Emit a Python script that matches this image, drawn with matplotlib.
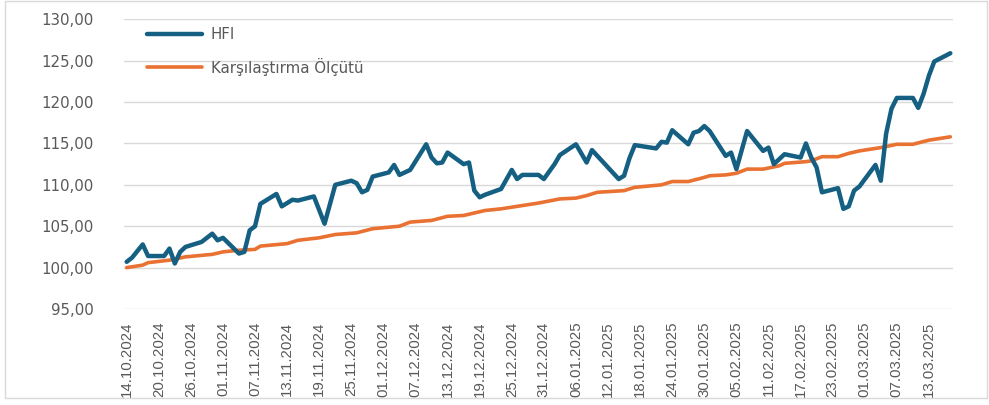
import matplotlib
matplotlib.use("Agg")
import matplotlib.pyplot as plt
from matplotlib import font_manager
from matplotlib.patches import Rectangle
import pandas as pd

# HFI fund index (turning points of the series)
hfi_dates = [
    "14.10.2024", "15.10.2024", "17.10.2024", "18.10.2024", "21.10.2024", "22.10.2024",
    "23.10.2024", "24.10.2024", "25.10.2024", "28.10.2024", "30.10.2024", "31.10.2024",
    "01.11.2024", "04.11.2024", "05.11.2024", "06.11.2024", "07.11.2024", "08.11.2024",
    "11.11.2024", "12.11.2024", "14.11.2024", "15.11.2024", "18.11.2024", "20.11.2024",
    "22.11.2024", "25.11.2024", "26.11.2024", "27.11.2024", "28.11.2024", "29.11.2024",
    "02.12.2024", "03.12.2024", "04.12.2024", "06.12.2024", "09.12.2024", "10.12.2024",
    "11.12.2024", "12.12.2024", "13.12.2024", "16.12.2024", "17.12.2024", "18.12.2024",
    "19.12.2024", "20.12.2024", "23.12.2024", "25.12.2024", "26.12.2024", "27.12.2024",
    "30.12.2024", "31.12.2024", "02.01.2025", "03.01.2025", "06.01.2025", "08.01.2025",
    "09.01.2025", "14.01.2025", "15.01.2025", "16.01.2025", "17.01.2025", "21.01.2025",
    "22.01.2025", "23.01.2025", "24.01.2025", "27.01.2025", "28.01.2025", "29.01.2025",
    "30.01.2025", "31.01.2025", "03.02.2025", "04.02.2025", "05.02.2025", "07.02.2025",
    "10.02.2025", "11.02.2025", "12.02.2025", "14.02.2025", "17.02.2025", "18.02.2025",
    "19.02.2025", "20.02.2025", "21.02.2025", "24.02.2025", "25.02.2025", "26.02.2025",
    "27.02.2025", "28.02.2025", "03.03.2025", "04.03.2025", "05.03.2025", "06.03.2025",
    "07.03.2025", "10.03.2025", "11.03.2025", "12.03.2025", "13.03.2025", "14.03.2025",
    "17.03.2025",
]
hfi_values = [
    100.7, 101.2, 102.8, 101.4, 101.4, 102.3,
    100.5, 101.9, 102.5, 103.1, 104.1, 103.3,
    103.6, 101.7, 101.9, 104.5, 105.0, 107.7,
    108.9, 107.4, 108.2, 108.1, 108.6, 105.3,
    110.0, 110.5, 110.2, 109.1, 109.4, 111.0,
    111.5, 112.4, 111.2, 111.8, 114.9, 113.3,
    112.6, 112.7, 113.9, 112.5, 112.7, 109.3,
    108.5, 108.8, 109.5, 111.8, 110.7, 111.2,
    111.2, 110.7, 112.5, 113.6, 114.9, 112.7,
    114.2, 110.7, 111.1, 113.2, 114.8, 114.4,
    115.2, 115.1, 116.6, 114.9, 116.3, 116.5,
    117.1, 116.5, 113.5, 113.9, 111.9, 116.5,
    114.1, 114.5, 112.5, 113.7, 113.3, 115.0,
    113.3, 112.1, 109.1, 109.6, 107.1, 107.4,
    109.3, 109.8, 112.4, 110.5, 116.2, 119.2,
    120.5, 120.5, 119.3, 121.0, 123.2, 124.9,
    125.9,
]

# Benchmark index
bench_dates = [
    "14.10.2024", "17.10.2024", "18.10.2024", "22.10.2024", "25.10.2024", "30.10.2024",
    "01.11.2024", "04.11.2024", "07.11.2024", "08.11.2024", "13.11.2024", "15.11.2024",
    "19.11.2024", "22.11.2024", "26.11.2024", "29.11.2024", "04.12.2024", "06.12.2024",
    "10.12.2024", "13.12.2024", "16.12.2024", "20.12.2024", "23.12.2024", "26.12.2024",
    "30.12.2024", "03.01.2025", "06.01.2025", "08.01.2025", "10.01.2025", "15.01.2025",
    "17.01.2025", "22.01.2025", "24.01.2025", "27.01.2025", "30.01.2025", "31.01.2025",
    "03.02.2025", "05.02.2025", "07.02.2025", "10.02.2025", "13.02.2025", "14.02.2025",
    "18.02.2025", "19.02.2025", "21.02.2025", "24.02.2025", "26.02.2025", "28.02.2025",
    "04.03.2025", "07.03.2025", "10.03.2025", "13.03.2025", "17.03.2025",
]
bench_values = [
    100.0, 100.3, 100.6, 100.9, 101.3, 101.6,
    101.9, 102.1, 102.2, 102.6, 102.9, 103.3,
    103.6, 104.0, 104.2, 104.7, 105.0, 105.5,
    105.7, 106.2, 106.3, 106.9, 107.1, 107.4,
    107.8, 108.3, 108.4, 108.7, 109.1, 109.3,
    109.7, 110.0, 110.4, 110.4, 110.9, 111.1,
    111.2, 111.4, 111.9, 111.9, 112.3, 112.6,
    112.8, 112.9, 113.4, 113.4, 113.8, 114.1,
    114.5, 114.9, 114.9, 115.4, 115.8,
]

series_labels = ["HFI", "Karşılaştırma Ölçütü"]
y_ticks = [95, 100, 105, 110, 115, 120, 125, 130]
first_date, last_date = "14.10.2024", "17.03.2025"

BLUE = "#156082"
ORANGE = "#E97132"
GRID = "#d9d9d9"
TEXT = "#595959"

installed = {f.name for f in font_manager.fontManager.ttflist}
if "Liberation Sans Narrow" in installed:
    xfont, xsize = ["Liberation Sans Narrow", "DejaVu Sans"], 12.8
else:
    xfont, xsize = ["Liberation Sans", "DejaVu Sans"], 10.8


def to_dt(values):
    return pd.to_datetime(values, format="%d.%m.%Y")


fig = plt.figure(figsize=(9.89, 4.05), dpi=100)
ax = fig.add_axes([124 / 989, 1 - 309 / 405, 829 / 989, 289.7 / 405])

ax.plot(to_dt(hfi_dates), hfi_values, color=BLUE, lw=3.2,
        solid_joinstyle="round", solid_capstyle="round", label=series_labels[0], zorder=3)
ax.plot(to_dt(bench_dates), bench_values, color=ORANGE, lw=2.6,
        solid_joinstyle="round", solid_capstyle="round", label=series_labels[1], zorder=2)

start = to_dt([first_date])[0]
end = to_dt([last_date])[0]
half = pd.Timedelta(hours=12)
ax.set_xlim(start - half, end + half)
ax.set_ylim(y_ticks[0], y_ticks[-1])

tick_dates = pd.date_range(start, end, freq="6D")
ax.set_xticks(tick_dates)
ax.set_xticklabels([d.strftime("%d.%m.%Y") for d in tick_dates], rotation=90,
                   family=xfont, fontsize=xsize, color=TEXT)
ax.set_yticks(y_ticks)
ax.set_yticklabels([f"{v:.2f}".replace(".", ",") for v in y_ticks],
                   family=["DejaVu Sans"], fontsize=10.8, color=TEXT)

ax.tick_params(axis="x", length=0, pad=9)
ax.tick_params(axis="y", length=0, pad=22)
ax.grid(axis="y", color=GRID, lw=1.0)
ax.set_axisbelow(True)
for s in ax.spines.values():
    s.set_visible(False)

ax.legend(loc="upper left", bbox_to_anchor=(0.0277, 0.974), frameon=False,
          prop={"family": "DejaVu Sans", "size": 10.8}, labelcolor=TEXT,
          handlelength=3.7, handletextpad=0.55, labelspacing=1.05,
          borderpad=0, borderaxespad=0)

fig.patches.append(Rectangle((5 / 989, 1 - 398 / 405), 982 / 989, 397 / 405,
                             transform=fig.transFigure, fill=False,
                             edgecolor=GRID, lw=1.0))

fig.savefig("out.png", dpi=100)
